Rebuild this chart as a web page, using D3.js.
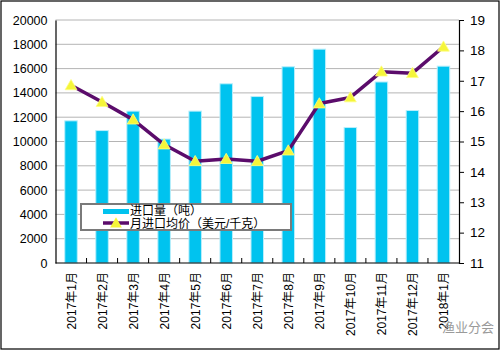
<!DOCTYPE html>
<html>
<head>
<meta charset="utf-8">
<script src="https://cdn.jsdelivr.net/npm/d3@7"></script>
<style>
  body { margin: 0; background: #fff; }
  svg text { font-family: "Liberation Sans", "Noto Sans CJK SC", sans-serif; }
</style>
</head>
<body>
<div id="chart"></div>
<script>
// Data
const months = ["2017年1月", "2017年2月", "2017年3月", "2017年4月", "2017年5月", "2017年6月", "2017年7月",
    "2017年8月", "2017年9月", "2017年10月", "2017年11月", "2017年12月", "2018年1月"];
const volume = [11700, 10900, 12500, 10200, 12500, 14750, 13700, 16150, 17600, 11150, 14900, 12550, 16200];
const price = [16.85, 16.3, 15.72, 14.9, 14.35, 14.42, 14.35, 14.7, 16.25, 16.45, 17.3, 17.25, 18.12];
const leftTicks = [0, 2000, 4000, 6000, 8000, 10000, 12000, 14000, 16000, 18000, 20000];
const rightTicks = [11, 12, 13, 14, 15, 16, 17, 18, 19];
const seriesNames = ["进口量（吨）", "月进口均价（美元/千克）"];

const W = 501, H = 351;
const margin = {top: 20, right: 42, bottom: 88, left: 55.5};
const width = W - margin.left - margin.right;
const height = H - margin.top - margin.bottom;

const svg = d3.select("#chart").append("svg")
    .attr("width", W)
    .attr("height", H);

// outer frame
svg.append("rect")
    .attr("x", 1).attr("y", 1)
    .attr("width", W - 3).attr("height", H - 3)
    .attr("fill", "none")
    .attr("stroke", "#000")
    .attr("stroke-width", 1.2);

const g = svg.append("g")
    .attr("transform", "translate(" + margin.left + "," + margin.top + ")");

// Scales
const x = d3.scaleBand().domain(months).range([0, width]);
const y = d3.scaleLinear().domain([0, 20000]).range([height, 0]);
const y2 = d3.scaleLinear().domain([11, 19]).range([height, 0]);

// Grid
g.append("g")
    .selectAll("line")
    .data(leftTicks.filter(d => d > 0))
    .join("line")
    .attr("x1", 0).attr("x2", width)
    .attr("y1", d => y(d)).attr("y2", d => y(d))
    .attr("stroke", "#b4b4b4")
    .attr("stroke-width", 1);

// Bars
const barW = 12.5;
g.append("g")
    .selectAll("rect")
    .data(volume)
    .join("rect")
    .attr("x", (d, i) => x(months[i]) + x.bandwidth() / 2 - barW / 2)
    .attr("y", d => y(d))
    .attr("width", barW)
    .attr("height", d => height - y(d))
    .attr("fill", "#00c3ef")
    .attr("stroke", "#b8eefb")
    .attr("stroke-width", 1);

// Axes
const yAxis = d3.axisLeft(y).tickValues(leftTicks).tickFormat(d3.format("d")).tickSize(0).tickPadding(8);
const yAxisG = g.append("g").call(yAxis);
yAxisG.select(".domain").attr("stroke", "#000").attr("stroke-width", 1.2);
yAxisG.selectAll("text")
    .attr("font-size", 12.5)
    .attr("fill", "#000");

const y2Axis = d3.axisRight(y2).tickValues(rightTicks).tickSize(5).tickPadding(6);
const y2AxisG = g.append("g")
    .attr("transform", "translate(" + width + ",0)")
    .call(y2Axis);
y2AxisG.select(".domain").attr("stroke", "#000").attr("stroke-width", 1.2);
y2AxisG.selectAll("line").attr("stroke", "#000");
y2AxisG.selectAll("text")
    .attr("font-size", 13.5)
    .attr("font-family", "'Liberation Serif', serif")
    .attr("fill", "#000");

// x axis: tick marks at band edges, pointing upward
const xAxisG = g.append("g")
    .attr("transform", "translate(0," + height + ")");
xAxisG.append("line")
    .attr("x1", 0).attr("x2", width)
    .attr("stroke", "#000")
    .attr("stroke-width", 1.2);
xAxisG.selectAll(".tk")
    .data(months.slice(1))
    .join("line")
    .attr("class", "tk")
    .attr("x1", d => x(d)).attr("x2", d => x(d))
    .attr("y1", 0).attr("y2", -5)
    .attr("stroke", "#000");
xAxisG.selectAll(".lbl")
    .data(months)
    .join("text")
    .attr("class", "lbl")
    .attr("transform", d => "translate(" + (x(d) + x.bandwidth() / 2 + 4.5) + ",9) rotate(-90)")
    .attr("text-anchor", "end")
    .attr("font-size", 12)
    .attr("font-family", "'DejaVu Sans', 'Noto Sans CJK SC', sans-serif")
    .text(d => d);

// Line
const line = d3.line()
    .x((d, i) => x(months[i]) + x.bandwidth() / 2)
    .y(d => y2(d));
g.append("path")
    .datum(price)
    .attr("d", line)
    .attr("fill", "none")
    .attr("stroke", "#5b0c6b")
    .attr("stroke-width", 3.5)
    .attr("stroke-linejoin", "round");

const tri = d3.symbol().type(d3.symbolTriangle).size(60);
g.append("g")
    .selectAll("path")
    .data(price)
    .join("path")
    .attr("d", tri)
    .attr("transform", (d, i) => "translate(" + (x(months[i]) + x.bandwidth() / 2) + "," + (y2(d) + 1) + ")")
    .attr("fill", "#f5f53a")
    .attr("stroke", "#ffff80")
    .attr("stroke-width", 0.8);

// Legend
const legend = svg.append("g").attr("transform", "translate(81,204)");
legend.append("rect")
    .attr("width", 210).attr("height", 26)
    .attr("fill", "#fff")
    .attr("stroke", "#7a7a7a")
    .attr("stroke-width", 2);
legend.append("rect")
    .attr("x", 22).attr("y", 5)
    .attr("width", 26).attr("height", 5)
    .attr("fill", "#00c3ef");
legend.append("line")
    .attr("x1", 22).attr("x2", 48)
    .attr("y1", 19).attr("y2", 19)
    .attr("stroke", "#5b0c6b")
    .attr("stroke-width", 3.5);
legend.append("path")
    .attr("d", tri)
    .attr("transform", "translate(35,20)")
    .attr("fill", "#f5f53a");
legend.selectAll("text")
    .data(seriesNames)
    .join("text")
    .attr("x", 49)
    .attr("y", (d, i) => 11 + i * 13)
    .attr("font-size", 12)
    .attr("font-family", "'Noto Sans CJK SC', sans-serif")
    .text(d => d);

// Watermark
svg.append("text")
    .attr("x", 442).attr("y", 332)
    .attr("font-size", 13)
    .attr("fill", "#9a9a9a")
    .attr("font-family", "'Noto Sans CJK SC', sans-serif")
    .text("渔业分会");
</script>
</body>
</html>
